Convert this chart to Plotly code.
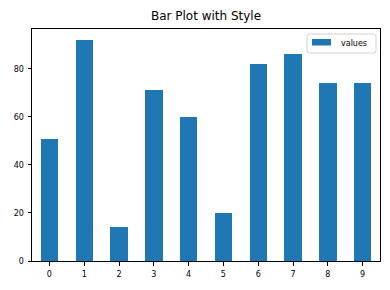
import plotly.graph_objects as go

categories = [0, 1, 2, 3, 4, 5, 6, 7, 8, 9]
values = [51, 92, 14, 71, 60, 20, 82, 86, 74, 74]
y_ticks = [0, 20, 40, 60, 80]
series_name = "values"
bar_color = "#1f77b4"

W, H = 390, 290
L, R, T, B = 32, 10, 29, 29
pw, ph = W - L - R, H - T - B

def px(x):
    return (x - L) / pw

def py(y):
    return (H - B - y) / ph

fig = go.Figure()
fig.add_trace(go.Bar(
    x=categories, y=values, name=series_name, width=0.5,
    marker=dict(color=bar_color, line=dict(width=0)),
    showlegend=False,
))

axis_common = dict(
    showline=True, linecolor="black", linewidth=1, mirror=True,
    ticks="outside", ticklen=3.5, tickwidth=1, tickcolor="black",
    showgrid=False, zeroline=False, ticklabelstandoff=2,
    tickfont=dict(family="DejaVu Sans", size=8, color="black"),
)

# legend box (matplotlib-like, rounded)
x0, x1, y0, y1 = px(307), px(376), py(53), py(34)
rx, ry = 2.5 / pw, 2.5 / ph
path = (f"M {x0+rx},{y0} L {x1-rx},{y0} Q {x1},{y0} {x1},{y0+ry} "
        f"L {x1},{y1-ry} Q {x1},{y1} {x1-rx},{y1} L {x0+rx},{y1} "
        f"Q {x0},{y1} {x0},{y1-ry} L {x0},{y0+ry} Q {x0},{y0} {x0+rx},{y0} Z")
shapes = [
    dict(type="path", xref="paper", yref="paper", path=path,
         line=dict(color="#d0d0d0", width=1), fillcolor="rgba(255,255,255,0.8)",
         layer="above"),
    dict(type="rect", xref="paper", yref="paper",
         x0=px(312), x1=px(331), y0=py(45.5), y1=py(39),
         line=dict(width=0), fillcolor=bar_color, layer="above"),
]
annotations = [
    dict(text=series_name, xref="paper", yref="paper", x=px(338.5), y=py(43.5),
         xanchor="left", yanchor="middle", showarrow=False,
         font=dict(family="DejaVu Sans", size=8, color="black")),
]

fig.update_layout(
    width=W, height=H,
    margin=dict(l=L, r=R, t=T, b=B),
    paper_bgcolor="white", plot_bgcolor="white",
    title=dict(text="Bar Plot with Style", x=206 / W, xanchor="center",
               y=1 - 16 / H, yanchor="middle",
               font=dict(family="DejaVu Sans", size=12, color="black")),
    xaxis=dict(range=[-0.5, 9.5], tickvals=categories, **axis_common),
    yaxis=dict(range=[0, 96.6], tickvals=y_ticks, **axis_common),
    shapes=shapes,
    annotations=annotations,
    showlegend=False,
    bargap=0,
)

fig.write_html("out.html")
